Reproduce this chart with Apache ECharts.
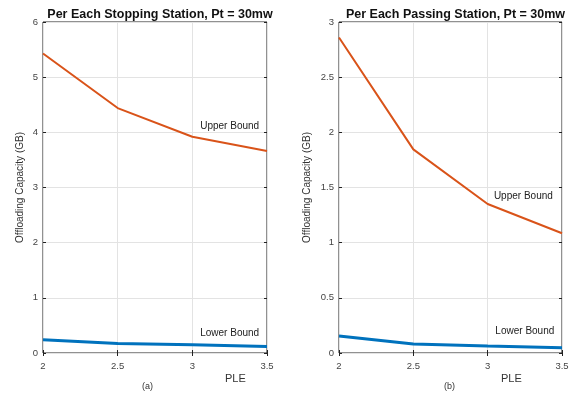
<!DOCTYPE html>
<html>
<head>
<meta charset="utf-8">
<script src="https://cdn.jsdelivr.net/npm/echarts@6/dist/echarts.min.js"></script>
<style>
  html, body { margin: 0; padding: 0; background: #fff; }
  #chart { width: 577px; height: 398px; }
</style>
</head>
<body>
<div id="chart"></div>
<script>
// PLE values along the x axis
const ple = [2, 2.5, 3, 3.5];
// (a) stopping station
const stopUpper = [5.43, 4.44, 3.92, 3.66];
const stopLower = [0.24, 0.17, 0.15, 0.12];
// (b) passing station
const passUpper = [2.86, 1.846, 1.35, 1.085];
const passLower = [0.154, 0.082, 0.063, 0.048];

const titles = ['Per Each Stopping Station, Pt = 30mw', 'Per Each Passing Station, Pt = 30mw'];
const captions = ['(a)', '(b)'];

const font = 'Liberation Sans, Arial, sans-serif';
const orange = '#D95319';
const blue = '#0072BD';

const chart = echarts.init(document.getElementById('chart'));

const pairs = (xs, ys) => xs.map((x, i) => [x, ys[i]]);

const gridBox = [
  { left: 43, top: 22, width: 224, height: 331 },
  { left: 339, top: 22, width: 223, height: 331 }
];

const xAxes = [];
const yAxes = [];
[0, 1].forEach((g) => {
  xAxes.push({
    type: 'value', gridIndex: g, min: 2, max: 3.5, interval: 0.5,
    axisLine: { show: false },
    axisTick: { inside: true, length: 3, lineStyle: { color: '#222' } },
    axisLabel: { color: '#444', fontSize: 9.5, fontFamily: font, margin: 8 },
    splitLine: { show: true, lineStyle: { color: '#e3e3e3' } }
  });
  xAxes.push({
    type: 'value', gridIndex: g, position: 'top', min: 2, max: 3.5, interval: 0.5,
    axisLine: { show: false },
    axisTick: { inside: true, length: 3, lineStyle: { color: '#222' } },
    axisLabel: { show: false }, splitLine: { show: false }
  });
  const ymax = g === 0 ? 6 : 3;
  const yint = g === 0 ? 1 : 0.5;
  yAxes.push({
    type: 'value', gridIndex: g, min: 0, max: ymax, interval: yint,
    name: 'Offloading Capacity (GB)', nameLocation: 'middle', nameGap: g === 0 ? 18 : 27,
    nameTextStyle: { color: '#333', fontSize: 10, fontFamily: font },
    axisLine: { show: false },
    axisTick: { inside: true, length: 3, lineStyle: { color: '#222' } },
    axisLabel: { color: '#444', fontSize: 9.5, fontFamily: font, margin: 5 },
    splitLine: { show: true, lineStyle: { color: '#e3e3e3' } }
  });
  yAxes.push({
    type: 'value', gridIndex: g, position: 'right', min: 0, max: ymax, interval: yint,
    axisLine: { show: false },
    axisTick: { inside: true, length: 3, lineStyle: { color: '#222' } },
    axisLabel: { show: false }, splitLine: { show: false }
  });
});

const labelPoint = (name, coord) => ({
  symbol: 'circle',
  symbolSize: 1,
  silent: true,
  itemStyle: { color: 'rgba(0,0,0,0)' },
  data: [{ coord: coord, value: name }],
  label: { show: true, position: 'inside', formatter: name, color: '#222', fontSize: 10, fontFamily: font }
});

const line = (g, data, color, width, name, coord) => ({
  type: 'line', xAxisIndex: g * 2, yAxisIndex: g * 2,
  data: pairs(ple, data), showSymbol: false, symbol: 'none',
  lineStyle: { color: color, width: width }, itemStyle: { color: color },
  silent: true, animation: false,
  markPoint: labelPoint(name, coord)
});

chart.setOption({
  animation: false,
  title: titles.map((t, i) => ({
    text: t,
    left: gridBox[i].left + gridBox[i].width / 2, top: 3, textAlign: 'center',
    textStyle: { fontSize: 12.5, fontWeight: 'bold', color: '#111', fontFamily: font }
  })),
  grid: gridBox.map((b) => Object.assign({ show: true, borderColor: '#222', borderWidth: 1, backgroundColor: 'transparent' }, b)),
  xAxis: xAxes,
  yAxis: yAxes,
  series: [
    line(0, stopUpper, orange, 2, 'Upper Bound', [3.25, 4.11]),
    line(0, stopLower, blue, 3, 'Lower Bound', [3.25, 0.36]),
    line(1, passUpper, orange, 2, 'Upper Bound', [3.24, 1.42]),
    line(1, passLower, blue, 3, 'Lower Bound', [3.25, 0.2])
  ],
  graphic: [
    { type: 'text', left: 225, top: 373, style: { text: 'PLE', fontSize: 11, fontFamily: font, fill: '#333' } },
    { type: 'text', left: 501, top: 373, style: { text: 'PLE', fontSize: 11, fontFamily: font, fill: '#333' } },
    { type: 'text', left: 142, top: 382, style: { text: captions[0], fontSize: 9, fontFamily: font, fill: '#333' } },
    { type: 'text', left: 444, top: 382, style: { text: captions[1], fontSize: 9, fontFamily: font, fill: '#333' } }
  ]
});

window.addEventListener('resize', () => chart.resize());
</script>
</body>
</html>
